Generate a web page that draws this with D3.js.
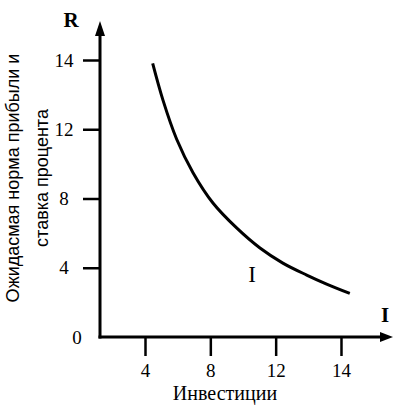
<!DOCTYPE html>
<html><head><meta charset="utf-8">
<script src="https://cdn.jsdelivr.net/npm/d3@7"></script>
<style>html,body{margin:0;padding:0;background:#fff;}svg{display:block;}</style>
</head><body>
<script>
// ---- data ----
const xTicks = [4, 8, 12, 14];
const yTicks = [0, 4, 8, 12, 14];
const curveX = [4.47, 5.10, 5.94, 6.94, 8.16, 9.61, 11.04, 12.22, 12.95, 13.56, 14.27];
const curveY = [13.90, 12.84, 11.42, 9.49, 7.74, 6.30, 5.14, 4.27, 3.58, 3.06, 2.52];
const yLabelLines = ["Ожидасмая норма прибыли и", "ставка процента"];
const xLabel = "Инвестиции";
const yAxisName = "R";
const xAxisName = "I";
const curveName = "I";

const W = 393, H = 407;
const svg = d3.select("body").append("svg").attr("width", W).attr("height", H);
svg.append("rect").attr("width", W).attr("height", H).attr("fill", "#fff");

const ox = 100, oy = 337;
// tick labels are evenly spaced on both axes
const xStep = 65.33, yStep = 69.25;
const x = d3.scaleLinear().domain(xTicks).range(xTicks.map((d, i) => 145 + i * xStep));
const y = d3.scaleLinear().domain(yTicks).range(yTicks.map((d, i) => oy - i * yStep));

const serif = "'Liberation Serif', 'Times New Roman', serif";
const sans = "'Liberation Sans', Arial, sans-serif";

// x axis ticks
const gx = svg.append("g").attr("transform", `translate(0,${oy})`)
  .call(d3.axisBottom(x).tickValues(xTicks).tickSize(19).tickPadding(8).tickFormat(d3.format("d")));
gx.attr("font-family", null);
gx.select(".domain").remove();
gx.selectAll(".tick line").attr("stroke", "#000").attr("stroke-width", 2.5);
gx.selectAll(".tick text").style("font-family", serif).style("font-size", "19px").attr("fill", "#000");

// y axis ticks
const gy = svg.append("g").attr("transform", `translate(${ox},0)`)
  .call(d3.axisLeft(y).tickValues(yTicks).tickSize(17).tickPadding(0).tickFormat(d3.format("d")));
gy.attr("font-family", null);
gy.select(".domain").remove();
gy.selectAll(".tick line").attr("stroke", "#000").attr("stroke-width", 2.5)
  .attr("display", d => d === 0 ? "none" : null);
gy.selectAll(".tick text").style("font-family", serif).style("font-size", "19px").attr("fill", "#000")
  .attr("text-anchor", "middle").attr("x", d => d === 0 ? -23 : -36);

// axis lines with arrows
svg.append("line").attr("x1", ox).attr("y1", oy + 1.5).attr("x2", ox).attr("y2", 32)
  .attr("stroke", "#000").attr("stroke-width", 3);
svg.append("path").attr("d", `M${ox},21 L${ox - 5},36 L${ox + 5},36 Z`).attr("fill", "#000");
svg.append("line").attr("x1", ox - 1.5).attr("y1", oy).attr("x2", 386).attr("y2", oy)
  .attr("stroke", "#000").attr("stroke-width", 3);
svg.append("path").attr("d", `M393,${oy} L380,${oy - 5} L380,${oy + 5} Z`).attr("fill", "#000");

// curve
const pts = curveX.map((v, i) => [x(v), y(curveY[i])]);
svg.append("path").attr("d", d3.line().curve(d3.curveCatmullRom.alpha(0.5))(pts))
  .attr("fill", "none").attr("stroke", "#000").attr("stroke-width", 3);

// names
svg.append("text").attr("x", 71).attr("y", 27).attr("text-anchor", "middle")
  .style("font-family", serif).style("font-weight", "bold").style("font-size", "21px").text(yAxisName);
svg.append("text").attr("x", 385).attr("y", 322).attr("text-anchor", "middle")
  .style("font-family", serif).style("font-weight", "bold").style("font-size", "21px").text(xAxisName);
svg.append("text").attr("x", 252).attr("y", 282).attr("text-anchor", "middle")
  .style("font-family", serif).style("font-size", "23px").text(curveName);

// axis labels
svg.append("text").attr("x", 225).attr("y", 400).attr("text-anchor", "middle")
  .style("font-family", serif).style("font-size", "20px").text(xLabel);
const yl = svg.append("text").attr("transform", "translate(0,178) rotate(-90)")
  .attr("text-anchor", "middle").style("font-family", sans).style("font-size", "18px");
yl.append("tspan").attr("x", 0).attr("y", 19).text(yLabelLines[0]);
yl.append("tspan").attr("x", 0).attr("y", 48).text(yLabelLines[1]);
</script>
</body></html>
